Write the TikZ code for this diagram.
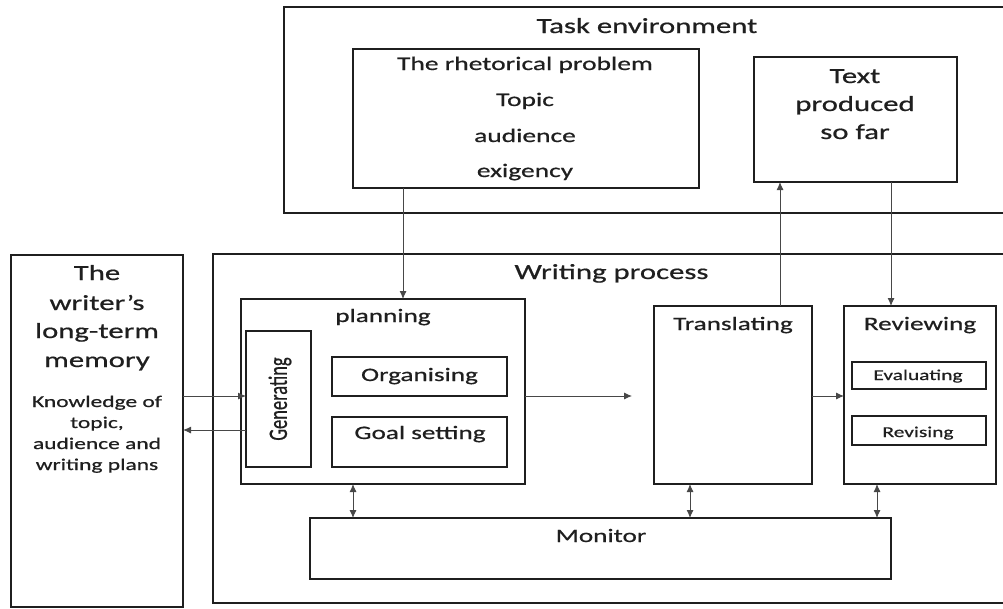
\documentclass[tikz,border=0pt]{standalone}
\usepackage{fontspec}
\usepackage{graphicx}
\setmainfont[FakeStretch=1.43,FakeBold=0.7]{Carlito}
\newfontfamily\plainfont[FakeBold=0.7]{Carlito}
\usetikzlibrary{arrows.meta}
\newcommand\fsz[1]{\fontsize{#1}{#1}\selectfont}
\begin{document}
\begin{tikzpicture}[x=1pt,y=-1pt,
  box/.style={draw=black!88, line width=1.7pt, inner sep=0pt, outer sep=0pt, fill=none},
  lbl/.style={anchor=base, inner sep=0pt, text=black!88},
  conn/.style={draw=black!72, line width=0.9pt},
  arr/.style={conn, -{Latex[length=8pt,width=7pt]}},
  darr/.style={conn, {Latex[length=8pt,width=7pt]}-{Latex[length=8pt,width=7pt]}},
  ]
\useasboundingbox (0,0) rectangle (1003,608);
\clip (0,0) rectangle (1003,608);
% boxes
\node[box, minimum width=722pt, minimum height=206pt] (taskenv) at (645,110) {};
\node[box, minimum width=346pt, minimum height=139pt] (rhet) at (526,118.5) {};
\node[box, minimum width=203pt, minimum height=125pt] (textprod) at (855.5,119.5) {};
\node[box, minimum width=172pt, minimum height=352pt] (memory) at (97,431) {};
\node[box, minimum width=793pt, minimum height=349pt] (writing) at (609.5,428.5) {};
\node[box, minimum width=284pt, minimum height=185pt] (planning) at (383,391.5) {};
\node[box, minimum width=65pt, minimum height=136pt] (generating) at (278.5,399) {};
\node[box, minimum width=175pt, minimum height=39pt] (organising) at (419.5,376.5) {};
\node[box, minimum width=175pt, minimum height=50pt] (goal) at (419.5,442) {};
\node[box, minimum width=158pt, minimum height=178pt] (translating) at (733,395) {};
\node[box, minimum width=152pt, minimum height=178pt] (reviewing) at (920,395) {};
\node[box, minimum width=134pt, minimum height=27pt] (evaluating) at (919,375.5) {};
\node[box, minimum width=134pt, minimum height=29pt] (revising) at (919,430.5) {};
\node[box, minimum width=581pt, minimum height=61pt] (monitor) at (600.5,548.5) {};
% labels
\node[lbl, font=\fsz{21.5}] (tasklbl) at (647,33) {Task environment};
\node[lbl, font=\fsz{19.2}] (rhet1) at (525,70) {The rhetorical problem};
\node[lbl, font=\fsz{19.2}] (rhet2) at (525,106) {Topic};
\node[lbl, font=\fsz{19.2}] (rhet3) at (525,142) {audience};
\node[lbl, font=\fsz{19.2}] (rhet4) at (525,177) {exigency};
\node[lbl, font=\fsz{21.5}] (tp1) at (855,83) {Text};
\node[lbl, font=\fsz{21.5}] (tp2) at (855,111) {produced};
\node[lbl, font=\fsz{21.5}] (tp3) at (855,139) {so far};
\node[lbl, font=\fsz{21.5}] (wplbl) at (611.5,279) {Writing process};
\node[lbl, font=\fsz{21.5}] (mem1) at (97,280) {The};
\node[lbl, font=\fsz{21.5}] (mem2) at (97,310) {writer’s};
\node[lbl, font=\fsz{21.5}] (mem3) at (97,338) {long-term};
\node[lbl, font=\fsz{21.5}] (mem4) at (97,367) {memory};
\node[lbl, font=\fsz{16.4}] (kn1) at (97,407) {Knowledge of};
\node[lbl, font=\fsz{16.4}] (kn2) at (97,428) {topic,};
\node[lbl, font=\fsz{16.4}] (kn3) at (97,449) {audience and};
\node[lbl, font=\fsz{16.4}] (kn4) at (97,470) {writing plans};
\node[lbl, font=\fsz{19}] (planlbl) at (383,322) {planning};
\node[lbl, font=\fsz{19}] (orglbl) at (419.5,381) {Organising};
\node[lbl, font=\fsz{19}] (goallbl) at (420,439) {Goal setting};
\node[inner sep=0pt, text=black!88] (genlbl) at (280,399) {\scalebox{1.43}[1]{\rotatebox{90}{\plainfont\fsz{18.5}Generating}}};
\node[lbl, font=\fsz{19}] (translbl) at (733,330) {Translating};
\node[lbl, font=\fsz{19}] (revlbl) at (920,330) {Reviewing};
\node[lbl, font=\fsz{15}] (evallbl) at (918,380) {Evaluating};
\node[lbl, font=\fsz{15}] (revislbl) at (918,437) {Revising};
\node[lbl, font=\fsz{19}] (monlbl) at (601,542) {Monitor};
% connectors
\coordinate (xr) at (403,0);
\draw[arr] (xr |- rhet.south) -- (xr |- planning.north);
\coordinate (xt) at (780,0);
\draw[arr] (xt |- translating.north) -- (xt |- textprod.south);
\coordinate (xd) at (891,0);
\draw[arr] (xd |- textprod.south) -- (xd |- reviewing.north);
\coordinate (ya) at (0,396);
\coordinate (yb) at (0,430);
\draw[arr] (ya -| memory.east) -- (ya -| generating.west);
\draw[arr] (yb -| generating.west) -- (yb -| memory.east);
\coordinate (ptip) at (632,396);
\draw[arr] (ya -| planning.east) -- (ptip);
\draw[arr] (ya -| translating.east) -- (ya -| reviewing.west);
\coordinate (x1) at (353,0);
\coordinate (x2) at (690,0);
\coordinate (x3) at (877,0);
\draw[darr] (x1 |- planning.south) -- (x1 |- monitor.north);
\draw[darr] (x2 |- translating.south) -- (x2 |- monitor.north);
\draw[darr] (x3 |- reviewing.south) -- (x3 |- monitor.north);
\end{tikzpicture}
\end{document}
